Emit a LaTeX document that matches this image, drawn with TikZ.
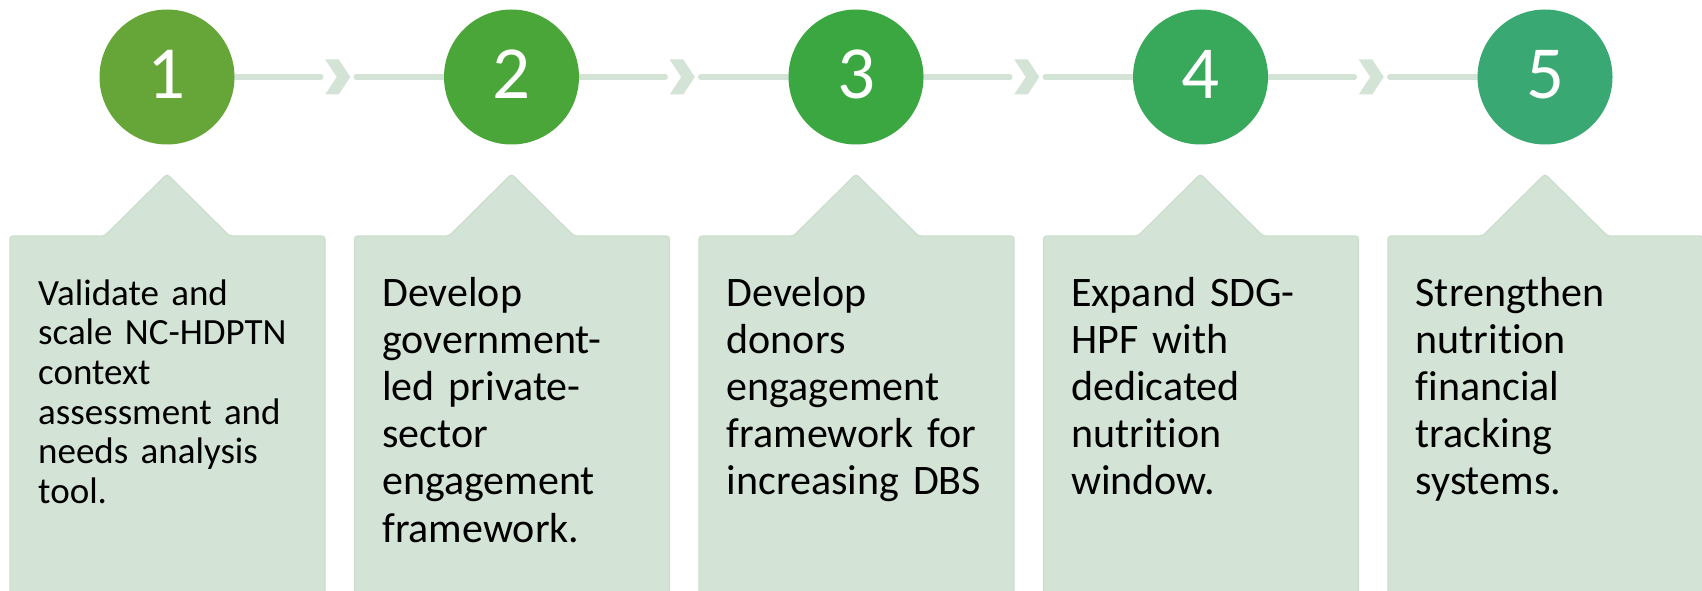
\documentclass[tikz,border=0pt]{standalone}
\usepackage{fontspec}
\setmainfont{Carlito}[Ligatures={NoCommon}]
\usetikzlibrary{calc,backgrounds}
\definecolor{boxfill}{HTML}{D3E3D5}
\definecolor{boxedge}{HTML}{CBDECD}
\definecolor{cA}{HTML}{66A638}
\definecolor{cB}{HTML}{4BA63A}
\definecolor{cC}{HTML}{3AA740}
\definecolor{cD}{HTML}{38A85A}
\definecolor{cE}{HTML}{3AA873}
\begin{document}
\begin{tikzpicture}[x=1pt,y=-1pt,
  stepcircle/.style={circle,minimum size=135pt,inner sep=0pt,text=white,
    text depth=6pt,font={\fontsize{75}{75}\selectfont}},
  conn/.style={line width=5.5pt,draw=boxfill,line cap=round},
  chev/.style={fill=boxfill},
  callout/.style={fill=boxfill,draw=boxedge,line width=1.2pt,rounded corners=3pt},
  bodytext/.style={anchor=base west,inner sep=0pt,text width=290pt,align=left,
    font={\fontsize{42}{47.2}\selectfont}},
  smalltext/.style={bodytext,font={\fontsize{37}{39.7}\selectfont}}]
\useasboundingbox (0,0) rectangle (1702,591);

% circles
\node[stepcircle,fill=cA] (c1) at (167,77) {1};
\node[stepcircle,fill=cB] (c2) at (511.5,77) {2};
\node[stepcircle,fill=cC] (c3) at (856,77) {3};
\node[stepcircle,fill=cD] (c4) at (1200.5,77) {4};
\node[stepcircle,fill=cE] (c5) at (1545,77) {5};

% connectors with chevrons
\begin{pgfonlayer}{background}
\foreach \a/\b in {c1/c2,c2/c3,c3/c4,c4/c5}{
  \coordinate (m\a) at ($(\a)!0.5!(\b)+(-1.5,0)$);
  \draw[conn] (\a.center) -- ($(m\a)+(-17,0)$);
  \draw[conn] ($(m\a)+(18.5,0)$) -- (\b.center);
  \fill[chev] ($(m\a)+(-12.5,-17.5)$) -- ($(m\a)+(1,-17.5)$) -- ($(m\a)+(12.5,0)$)
    -- ($(m\a)+(1,17.5)$) -- ($(m\a)+(-12.5,17.5)$) -- ($(m\a)+(-1,0)$) -- cycle;
}
\end{pgfonlayer}

% callout boxes
\foreach \x/\c in {10/167,354.5/511.5,699/856,1043.5/1200.5,1388/1545}{
  \draw[callout] (\x,600) -- (\x,236) -- (\c-62.5,236) -- (\c,174)
    -- (\c+62.5,236) -- (\x+315,236) -- (\x+315,600) -- cycle;
}

% texts
\node[smalltext] (t1) at (38,305) {Validate and\\scale NC-HDPTN\\context\\assessment and\\needs analysis\\tool.};
\node[bodytext] (t2) at (382,306) {Develop\\government-\\led private-\\sector\\engagement\\framework.};
\node[bodytext] (t3) at (726.5,306) {Develop\\donors\\engagement\\framework for\\increasing DBS};
\node[bodytext] (t4) at (1071,306) {Expand SDG-\\HPF with\\dedicated\\nutrition\\window.};
\node[bodytext] (t5) at (1415.5,306) {Strengthen\\nutrition\\financial\\tracking\\systems.};
\end{tikzpicture}
\end{document}
